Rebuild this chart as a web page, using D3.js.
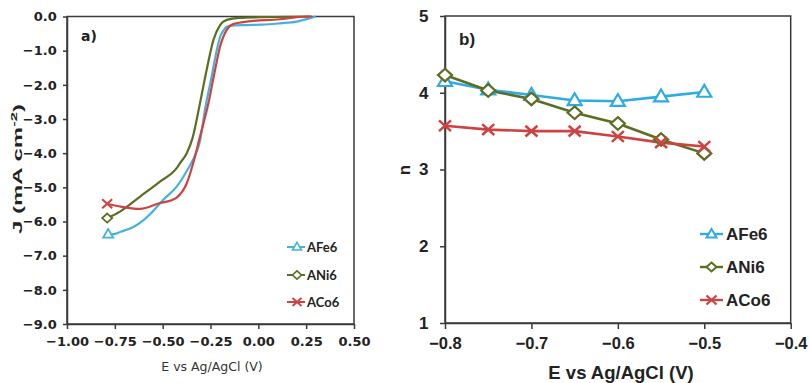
<!DOCTYPE html>
<html lang="en">
<head>
  <meta charset="UTF-8">
  <title>ORR curves and electron number</title>
  <script src="https://d3js.org/d3.v7.min.js"></script>
  <style>
    body { margin: 0; background: #fff; }
    svg { font-family: "Liberation Sans", Arial, sans-serif; }
    .axis path, .axis line { stroke: #3a3a3a; stroke-width: 1.5; }
    .axis text { fill: #222; font-weight: bold; }
    .axisA text { font-family: "DejaVu Sans", sans-serif; }
    .frame { fill: none; stroke: #3a3a3a; stroke-width: 1.5; }
  </style>
</head>
<body>
<script>
  // series names + colours
  var seriesNames = ["AFe6", "ANi6", "ACo6"];
  var colorsA = ["#45b2dc", "#5b6e22", "#cf4242"];
  var colorsB = ["#2eabe3", "#5b6e22", "#cf4242"];

  // a) linear sweep curves, [E (V), J (mA cm-2)]
  var lsvFe = [[-0.785,-6.37],[-0.758,-6.37],[-0.72,-6.3],[-0.653,-6.16],[-0.6,-5.96],[-0.566,-5.79],
    [-0.498,-5.37],[-0.427,-4.98],[-0.374,-4.52],[-0.322,-3.95],[-0.305,-3.65],[-0.279,-2.73],
    [-0.244,-1.76],[-0.217,-0.98],[-0.2,-0.6],[-0.183,-0.42],[-0.165,-0.3],[-0.148,-0.27],
    [-0.061,-0.25],[0.02,-0.24],[0.113,-0.2],[0.201,-0.15],[0.27,-0.05],[0.3,0]];
  var lsvNi = [[-0.79,-5.9],[-0.723,-5.71],[-0.618,-5.27],[-0.514,-4.83],[-0.427,-4.44],[-0.409,-4.29],
    [-0.374,-4.0],[-0.344,-3.56],[-0.305,-2.54],[-0.27,-1.56],[-0.235,-0.69],[-0.2,-0.25],
    [-0.165,-0.1],[-0.1,-0.04],[0.009,-0.02],[0.27,0]];
  var lsvCo = [[-0.79,-5.48],[-0.723,-5.56],[-0.618,-5.63],[-0.514,-5.46],[-0.45,-5.37],[-0.427,-5.3],
    [-0.374,-4.88],[-0.331,-4.1],[-0.307,-3.56],[-0.261,-2.54],[-0.226,-1.56],[-0.2,-0.88],
    [-0.165,-0.39],[-0.131,-0.22],[-0.061,-0.15],[0.113,-0.08],[0.201,-0.02],[0.28,0]];
  var lsvData = [lsvFe, lsvNi, lsvCo];

  // b) electron transfer number n
  var potentials = [-0.8, -0.75, -0.7, -0.65, -0.6, -0.55, -0.5];
  var nFe = [4.15, 4.04, 3.97, 3.90, 3.89, 3.95, 4.01];
  var nNi = [4.23, 4.03, 3.92, 3.74, 3.60, 3.39, 3.21];
  var nCo = [3.57, 3.52, 3.50, 3.50, 3.43, 3.35, 3.30];
  var nData = [nFe, nNi, nCo];

  // tick values
  var ticksAx = [-1, -0.75, -0.5, -0.25, 0, 0.25, 0.5];
  var ticksAy = [0, -1, -2, -3, -4, -5, -6, -7, -8, -9];
  var ticksBx = [-0.8, -0.7, -0.6, -0.5, -0.4];
  var ticksBy = [1, 2, 3, 4, 5];

  var svg = d3.select("body").append("svg")
    .attr("width", 810).attr("height", 383);

  // marker shapes (s = overall width)
  function marker(g, i, x, y, col, s, sw) {
    var h = s / 2;
    if (i == 0) {
      var th = s * 0.85;
      g.append("path")
        .attr("d", "M" + x + "," + (y - th * 0.6) + "L" + (x + h) + "," + (y + th * 0.4) +
          "L" + (x - h) + "," + (y + th * 0.4) + "Z")
        .attr("fill", "#fff").attr("stroke", col).attr("stroke-width", sw);
    } else if (i == 1) {
      var v = h * 0.9;
      g.append("path")
        .attr("d", "M" + x + "," + (y - v) + "L" + (x + h) + "," + y +
          "L" + x + "," + (y + v) + "L" + (x - h) + "," + y + "Z")
        .attr("fill", "#fff").attr("stroke", col).attr("stroke-width", sw);
    } else {
      g.append("path")
        .attr("d", "M" + (x - h) + "," + (y - h * 0.9) + "L" + (x + h) + "," + (y + h * 0.9) +
          "M" + (x - h) + "," + (y + h * 0.9) + "L" + (x + h) + "," + (y - h * 0.9))
        .attr("stroke", col).attr("stroke-width", sw + 0.3);
    }
  }

  // ---------- panel a ----------
  var xA = d3.scaleLinear().domain([-1, 0.5]).range([67, 354]);
  var yA = d3.scaleLinear().domain([-9, 0]).range([324, 16.5]);

  svg.append("rect").attr("class", "frame")
    .attr("x", 67).attr("y", 16.5).attr("width", 287).attr("height", 307.5);

  svg.append("g").attr("class", "axis axisA")
    .attr("transform", "translate(0,324)")
    .call(d3.axisBottom(xA).tickValues(ticksAx).tickFormat(d3.format(".2f")).tickSize(5).tickSizeOuter(0))
    .selectAll("text").attr("font-size", 13).attr("dy", "1.1em");

  svg.append("g").attr("class", "axis axisA")
    .attr("transform", "translate(67,0)")
    .call(d3.axisLeft(yA).tickValues(ticksAy).tickFormat(d3.format(".1f")).tickSize(4).tickSizeOuter(0))
    .selectAll("text").attr("font-size", 13).attr("dx", "-0.25em");

  var lineA = d3.line()
    .x(function(d) { return xA(d[0]); })
    .y(function(d) { return yA(d[1]); })
    .curve(d3.curveMonotoneX);

  lsvData.forEach(function(s, i) {
    svg.append("path").datum(s)
      .attr("d", lineA).attr("fill", "none")
      .attr("stroke", colorsA[i]).attr("stroke-width", 2.2);
    marker(svg, i, xA(s[0][0]), yA(s[0][1]), colorsA[i], 10, 1.8);
  });

  svg.append("text").attr("x", 81).attr("y", 41)
    .attr("font-family", "DejaVu Sans, sans-serif")
    .attr("font-size", 14).attr("font-weight", "bold").attr("fill", "#222").text("a)");

  svg.append("text").attr("x", 212).attr("y", 371).attr("text-anchor", "middle")
    .attr("font-family", "DejaVu Sans, sans-serif")
    .attr("font-size", 12.5).attr("fill", "#333").text("E vs Ag/AgCl (V)");

  var yLab = svg.append("text").attr("transform", "translate(22,169) rotate(-90)")
    .attr("text-anchor", "middle").attr("font-size", 13).attr("font-weight", "bold").attr("fill", "#222")
    .attr("textLength", 130).attr("lengthAdjust", "spacingAndGlyphs");
  yLab.append("tspan").text("J (mA cm");
  yLab.append("tspan").attr("font-size", 9).attr("dy", -5).text("-2");
  yLab.append("tspan").attr("dy", 5).text(")");

  var legA = [247, 275, 302];
  seriesNames.forEach(function(nm, i) {
    svg.append("line").attr("x1", 287).attr("x2", 305).attr("y1", legA[i]).attr("y2", legA[i])
      .attr("stroke", colorsA[i]).attr("stroke-width", 2);
    marker(svg, i, 297, legA[i], colorsA[i], 9, 1.6);
    svg.append("text").attr("x", 307).attr("y", legA[i] + 4.5)
      .attr("font-family", "Lato, sans-serif").attr("font-weight", "bold")
      .attr("font-size", 13).attr("fill", "#222").text(nm);
  });

  // ---------- panel b ----------
  var xB = d3.scaleLinear().domain([-0.8, -0.4]).range([445, 790.7]);
  var yB = d3.scaleLinear().domain([1, 5]).range([323, 16]);

  svg.append("rect").attr("class", "frame")
    .attr("x", 445).attr("y", 16).attr("width", 345.7).attr("height", 307);

  svg.append("g").attr("class", "axis")
    .attr("transform", "translate(0,323)")
    .call(d3.axisBottom(xB).tickValues(ticksBx).tickFormat(d3.format(".1f")).tickSize(6).tickSizeOuter(0))
    .selectAll("text").attr("font-size", 16.5).attr("dy", "1.05em");

  svg.append("g").attr("class", "axis")
    .attr("transform", "translate(445,0)")
    .call(d3.axisLeft(yB).tickValues(ticksBy).tickFormat(d3.format("d")).tickSize(5).tickSizeOuter(0))
    .selectAll("text").attr("font-size", 17).attr("dx", "-0.5em");

  var lineB = d3.line()
    .x(function(d, j) { return xB(potentials[j]); })
    .y(function(d) { return yB(d); });

  nData.forEach(function(s, i) {
    svg.append("path").datum(s)
      .attr("d", lineB).attr("fill", "none")
      .attr("stroke", colorsB[i]).attr("stroke-width", 2.6);
  });
  nData.forEach(function(s, i) {
    s.forEach(function(v, j) {
      marker(svg, i, xB(potentials[j]), yB(v), colorsB[i], i == 2 ? 12 : 14, 2.2);
    });
  });

  svg.append("text").attr("x", 459).attr("y", 45)
    .attr("font-size", 17).attr("font-weight", "bold").attr("fill", "#222").text("b)");

  svg.append("text").attr("x", 621).attr("y", 379).attr("text-anchor", "middle")
    .attr("font-size", 18.5).attr("font-weight", "bold").attr("fill", "#222").text("E vs Ag/AgCl (V)");

  svg.append("text").attr("transform", "translate(410,170) rotate(-90)")
    .attr("text-anchor", "middle").attr("font-size", 17).attr("font-weight", "bold")
    .attr("fill", "#222").text("n");

  var legB = [234, 267, 300];
  seriesNames.forEach(function(nm, i) {
    svg.append("line").attr("x1", 700).attr("x2", 723).attr("y1", legB[i]).attr("y2", legB[i])
      .attr("stroke", colorsB[i]).attr("stroke-width", 2.4);
    marker(svg, i, 711.5, legB[i], colorsB[i], 10, 2);
    svg.append("text").attr("x", 726).attr("y", legB[i] + 6)
      .attr("font-weight", "bold").attr("font-size", 17).attr("fill", "#222").text(nm);
  });
</script>
</body>
</html>
